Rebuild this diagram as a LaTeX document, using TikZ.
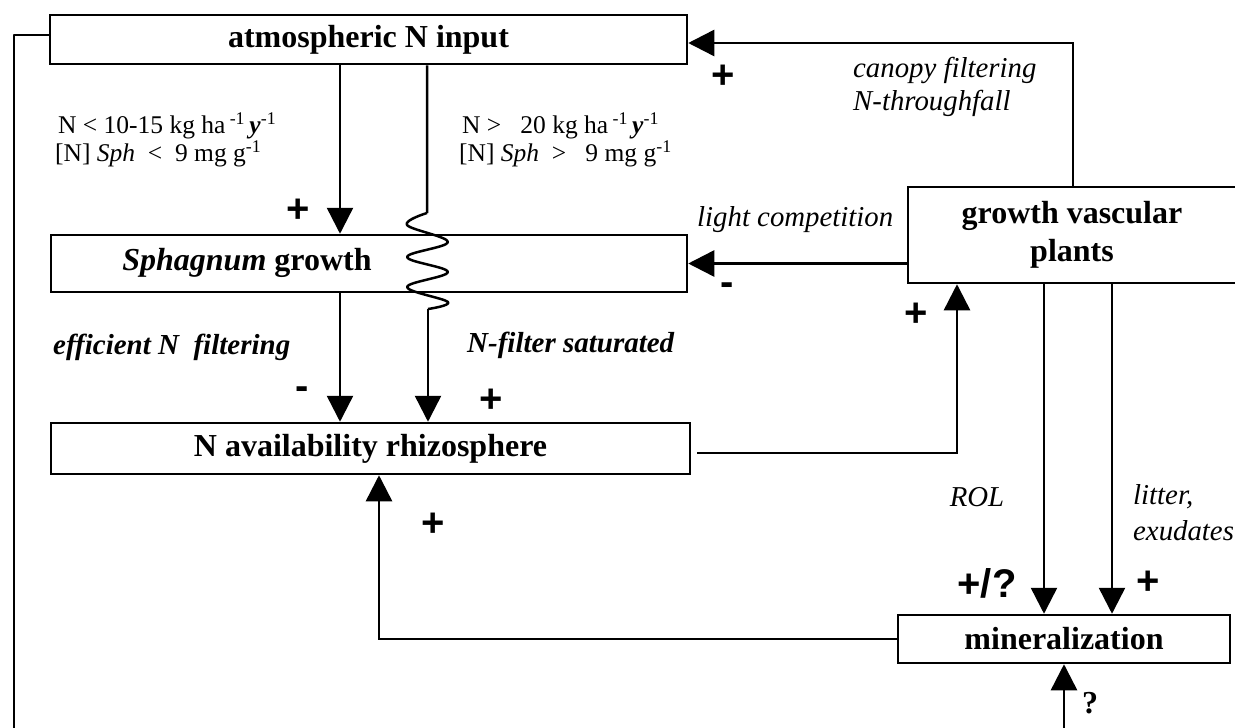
\documentclass[tikz,border=0pt]{standalone}
\usepackage{fontspec}
\setmainfont{Liberation Serif}
\newfontfamily\sansfam{Liberation Sans}
\usetikzlibrary{arrows.meta}
\begin{document}
\begin{tikzpicture}[x=1pt,y=-1pt,
  box/.style={draw, line width=2.5pt, inner sep=0pt, rectangle},
  conn/.style={line width=2.5pt, line join=round},
  arr/.style={line width=2.5pt, -{Triangle[width=26pt,length=26pt]}},
  bl/.style={font=\fontsize{32}{38}\selectfont\bfseries, inner sep=0pt, align=center},
  it/.style={font=\fontsize{28.8}{33}\selectfont\itshape, inner sep=0pt, anchor=west},
  bi/.style={font=\fontsize{29}{33}\selectfont\bfseries\itshape, inner sep=0pt, anchor=west},
  rg/.style={font=\fontsize{25.5}{25}\selectfont, inner sep=0pt, align=left},
  sg/.style={font=\fontsize{40}{42}\selectfont\sansfam\bfseries, inner sep=0pt},
  qm/.style={font=\fontsize{32}{36}\selectfont\bfseries, inner sep=0pt},
]
\useasboundingbox (0,0) rectangle (1235,728);
\clip (0,0) rectangle (1235,728);

% boxes
\node[box, minimum width=637pt, minimum height=49pt, bl] (atmos) at (368.5,39.5) {atmospheric N input};
\node[box, minimum width=636pt, minimum height=57pt] (sph) at (369,263.5) {};
\node[bl] (sphtxt) at (247,263) {\textit{Sphagnum} growth};
\node[box, minimum width=639pt, minimum height=51pt, bl] (nav) at (370.5,448.5) {N availability rhizosphere};
\node[box, minimum width=332pt, minimum height=96pt] (vasc) at (1074,235) {};
\node[bl] (vasctxt) at (1072,235) {growth vascular\\plants};
\node[box, minimum width=332pt, minimum height=48pt, bl] (min) at (1064,639) {mineralization};

% helper coordinates
\coordinate (xA) at (340,0);
\coordinate (xW) at (427,0);
\coordinate (xW2) at (428,0);
\coordinate (xP) at (957,0);
\coordinate (xR) at (1044,0);
\coordinate (xL) at (1112,0);
\coordinate (xM) at (379,0);
\coordinate (leftturn) at (14,35);
\coordinate (leftend) at (14,735);
\coordinate (wtop) at (427,213);
\coordinate (wbot) at (428,309);
\coordinate (navout) at (697,453);
\coordinate (canopy) at (1073,43);
\coordinate (qbot) at (1064,735);

% connectors
\draw[conn] (atmos.west |- leftturn) -- (leftturn) -- (leftend);
\draw[arr] (atmos.south -| xA) -- (sph.north -| xA);
\draw[conn] (atmos.south -| xW) -- (wtop)
  plot[smooth, tension=0.6] coordinates {(427,213) (407,225) (448,242) (407,257) (448,272) (407,287) (448,302) (428,309)};
\draw[arr] (wbot) -- (nav.north -| xW2);
\draw[arr] (sph.south -| xA) -- (nav.north -| xA);
\draw[arr] (vasc.north -| canopy) -- (canopy) -- (atmos.east |- canopy);
\draw[arr] (vasc.west |- sph.east) -- (sph.east);
\draw[arr] (navout) -| (xP |- vasc.south);
\draw[arr] (vasc.south -| xR) -- (min.north -| xR);
\draw[arr] (vasc.south -| xL) -- (min.north -| xL);
\draw[arr] (min.west) -| (nav.south -| xM);
\draw[arr] (qbot) -- (min.south);

% labels
\node[rg, anchor=west] (lcond) at (55,140) {\hspace*{3pt}N < 10-15 kg ha\,\textsuperscript{-1}\,\textbf{\textit{y}}\textsuperscript{-1}\\{}[N] \textit{Sph}~~<~~9 mg g\textsuperscript{-1}};
\node[rg, anchor=west] (rcond) at (459,140) {\hspace*{3pt}N >~~~20 kg ha\,\textsuperscript{-1}\,\textbf{\textit{y}}\textsuperscript{-1}\\{}[N] \textit{Sph}~~>~~~9 mg g\textsuperscript{-1}};
\node[sg] (p1) at (298,211) {+};
\node[it] (can1) at (853,70) {canopy filtering};
\node[it] (can2) at (853,103) {N-throughfall};
\node[sg] (p2) at (723,77) {+};
\node[it] (lc) at (697,220) {light competition};
\node[sg] (m1) at (727,289) {-};
\node[bi] (eff) at (53,347) {efficient N~~filtering};
\node[bi] (sat) at (467,345) {N-filter saturated};
\node[sg] (m2) at (302,393) {-};
\node[sg] (p3) at (491,401) {+};
\node[sg] (p4) at (916,315) {+};
\node[it, anchor=center] (rol) at (977,497) {ROL};
\node[it] (lit) at (1133,497) {litter,};
\node[it] (exu) at (1133,531) {exudates};
\node[sg] (p5) at (433,525) {+};
\node[sg] (pq) at (987,583) {+/?};
\node[sg] (p6) at (1148,583) {+};
\node[qm] (q) at (1090,703) {?};
\end{tikzpicture}
\end{document}
